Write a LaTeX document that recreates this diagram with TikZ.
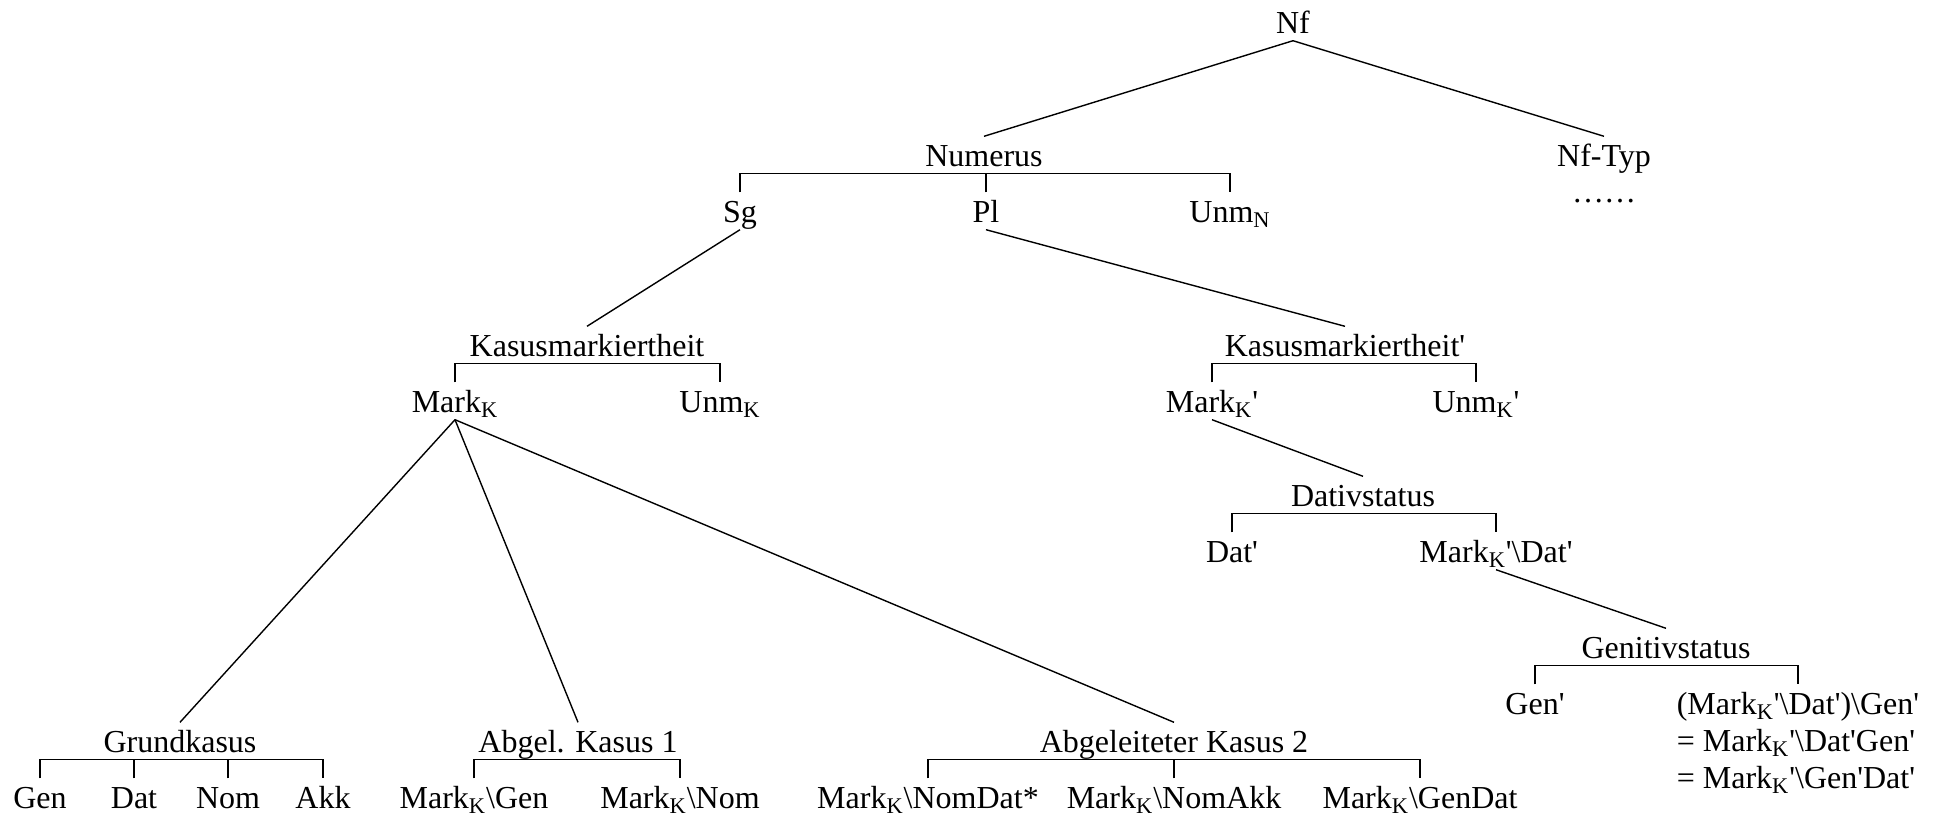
\documentclass[tikz,border=0pt]{standalone}
\usepackage{fontspec}
\setmainfont{Liberation Serif}[Ligatures=TeXOff]
\newcommand{\mk}{Mark\textsubscript{K}}
\newcommand{\kids}[3]{
    \draw (#2.north) |- (#1.south) -| (#3.north);
}
\newcommand{\midkid}[2]{
    \draw (#2.north) -- (#2.north |- #1.south);
}

\begin{document}
\begin{tikzpicture}[x=0.5pt, y=-0.5pt, line width=0.7pt,
    lab/.style={anchor=base, inner sep=0.5pt, text height=14pt, text depth=3pt,
        font=\fontsize{16}{18.5}\selectfont}]
    \useasboundingbox (0,0) rectangle (1939,815);

    \node[lab] (nf) at (1293,33) {Nf};
    \node[lab] (num) at (984,166) {Numerus};
    \node[lab] (nftyp) at (1604,166) {Nf-Typ};
    \node[lab] (dots) at (1604,202) {……};
    \node[lab] (sg) at (740,222) {Sg};
    \node[lab] (pl) at (986,222) {Pl};
    \node[lab] (unmn) at (1230,222) {Unm\textsubscript{N}};

    \node[lab] (kas) at (587,356) {Kasusmarkiertheit};
    \node[lab] (markk) at (455,412) {\mk};
    \node[lab] (unmk) at (720,412) {Unm\textsubscript{K}};

    \node[lab] (kas2) at (1345,356) {Kasusmarkiertheit'};
    \node[lab] (markk2) at (1212,412) {\mk'};
    \node[lab] (unmk2) at (1476,412) {Unm\textsubscript{K}'};
    \node[lab] (dativ) at (1363,506) {Dativstatus};
    \node[lab] (dat2) at (1232,562) {Dat'};
    \node[lab] (markdat) at (1496,562) {\mk'\textbackslash Dat'};
    \node[lab] (genitiv) at (1666,658) {Genitivstatus};
    \node[lab] (gen2) at (1535,714) {Gen'};
    \node[lab, align=left, text height=, text depth=, inner ysep=3.5pt] (markgen) at (1798,788)
        {(\mk'\textbackslash Dat')\textbackslash Gen'\\= \mk'\textbackslash Dat'Gen'\\= \mk'\textbackslash Gen'Dat'};

    \node[lab] (grund) at (180,752) {Grundkasus};
    \foreach \n/\x/\t in {gen/40/Gen, dat/134/Dat, nom/228/Nom, akk/323/Akk} {
        \node[lab] (\n) at (\x,808) {\t};
    }
    \node[lab] (abg1) at (578,752) {Abgel. Kasus 1};
    \node[lab] (mgen) at (474,808) {\mk\textbackslash Gen};
    \node[lab] (mnom) at (680,808) {\mk\textbackslash Nom};
    \node[lab] (abg2) at (1174,752) {Abgeleiteter Kasus 2};
    \node[lab] (mnd) at (928,808) {\mk\textbackslash NomDat*};
    \node[lab] (mna) at (1174,808) {\mk\textbackslash NomAkk};
    \node[lab] (mgd) at (1420,808) {\mk\textbackslash GenDat};

    \draw (nf.south) -- (num.north);
    \draw (nf.south) -- (nftyp.north);
    \kids{num}{sg}{unmn}
    \midkid{num}{pl}
    \draw (sg.south) -- (kas.north);
    \draw (pl.south) -- (kas2.north);
    \kids{kas}{markk}{unmk}
    \kids{kas2}{markk2}{unmk2}
    \foreach \t in {grund, abg1, abg2} {
        \draw (markk.south) -- (\t.north);
    }
    \draw (markk2.south) -- (dativ.north);
    \kids{dativ}{dat2}{markdat}
    \draw (markdat.south) -- (genitiv.north);
    \kids{genitiv}{gen2}{markgen}
    \kids{grund}{gen}{akk}
    \midkid{grund}{dat}
    \midkid{grund}{nom}
    \kids{abg1}{mgen}{mnom}
    \kids{abg2}{mnd}{mgd}
    \midkid{abg2}{mna}
\end{tikzpicture}
\end{document}
